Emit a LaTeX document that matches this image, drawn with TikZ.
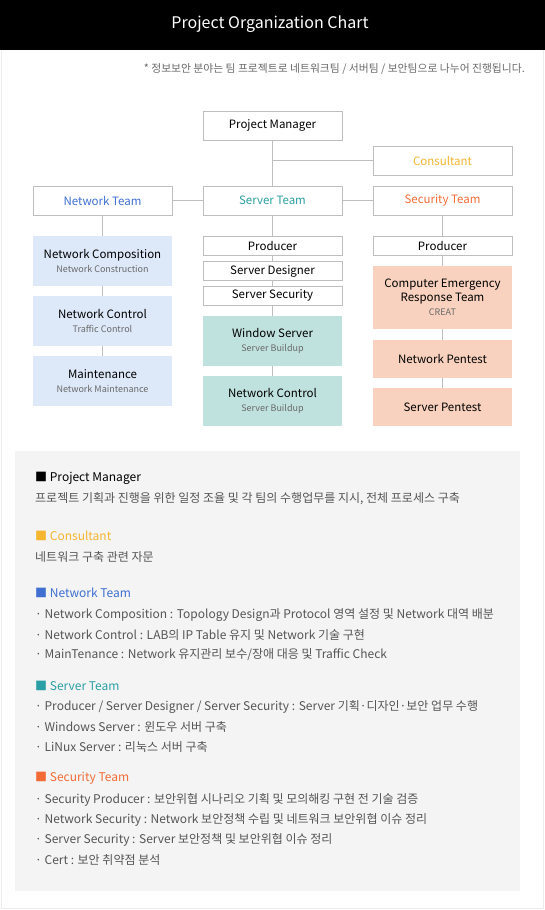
\documentclass[tikz,border=0pt]{standalone}
\usepackage{fontspec}
\setmainfont{Noto Sans CJK KR}
\usepackage{tikz}
\usetikzlibrary{positioning, calc}
\definecolor{blueNet}{RGB}{63, 111, 209}
\definecolor{blueNetLight}{RGB}{221, 232, 248}
\definecolor{tealServer}{RGB}{42, 160, 166}
\definecolor{tealServerLight}{RGB}{192, 226, 223}
\definecolor{orangeSec}{RGB}{243, 108, 54}
\definecolor{orangeSecLight}{RGB}{248, 210, 190}
\definecolor{yellowCons}{RGB}{245, 181, 46}
\definecolor{grayLine}{RGB}{190, 190, 190}
\definecolor{grayText}{RGB}{85, 85, 85}
\definecolor{graySub}{RGB}{105, 105, 105}
\definecolor{grayPanel}{RGB}{244, 244, 244}
\definecolor{grayFrame}{RGB}{236, 236, 236}
\newcommand{\subtext}[1]{{\fontsize{9}{11}\selectfont\color{graySub}#1}}

\begin{document}
\begin{tikzpicture}[x=1pt, y=-1pt,
  box/.style={rectangle, draw=grayLine, fill=white, line width=0.8pt,
    minimum width=139pt, minimum height=#1, inner sep=0pt,
    align=center, font=\fontsize{11.5}{13}\selectfont},
  box/.default=29pt,
  tile/.style={rectangle, fill=#1, minimum width=139pt, inner sep=0pt,
    align=center, font=\fontsize{11.5}{14}\selectfont},
  link/.style={draw=grayLine, line width=0.8pt},
  head/.style={anchor=west, inner sep=0pt, text=#1,
    font=\fontsize{12}{14}\selectfont},
  item/.style={anchor=west, inner sep=0pt, text=grayText,
    font=\fontsize{12}{14}\selectfont},
]
\useasboundingbox (0,0) rectangle (545,910);
\fill[black] (0,0) rectangle (545,50);
\draw[grayFrame, line width=1pt] (1,50) -- (1,908.5) -- (543.5,908.5) -- (543.5,50);
\node[text=white, font=\fontsize{16}{19}\selectfont] (title) at (270,24)
  {Project Organization Chart};
\node[anchor=east, inner sep=0pt, text=graySub, font=\fontsize{10.8}{13}\selectfont] (note) at (525,69)
  {* 정보보안 분야는 팀 프로젝트로 네트워크팀 / 서버팀 / 보안팀으로 나누어 진행됩니다.};

\node[box] (pm)   at (272.5,125.5) {Project Manager};
\node[box, text=yellowCons] (cons) at (442.5,160.5) {Consultant};
\node[box, text=blueNet]    (net)  at (102.5,200.5) {Network Team};
\node[box, text=tealServer] (srv)  at (272.5,200.5) {Server Team};
\node[box, text=orangeSec]  (sec)  at (442.5,200.5) {Security Team};

\node[tile=blueNetLight, minimum height=50pt] (netA) at (102.5,261)
  {Network Composition\\\subtext{Network Construction}};
\node[tile=blueNetLight, minimum height=50pt] (netB) at (102.5,321)
  {Network Control\\\subtext{Traffic Control}};
\node[tile=blueNetLight, minimum height=50pt] (netC) at (102.5,381)
  {Maintenance\\\subtext{Network Maintenance}};

\node[box=19pt] (srvA) at (272.5,245.5) {Producer};
\node[box=19pt] (srvB) at (272.5,271)   {Server Designer};
\node[box=19pt] (srvC) at (272.5,295.5) {Server Security};
\node[tile=tealServerLight, minimum height=50pt] (srvD) at (272.5,341)
  {Window Server\\\subtext{Server Buildup}};
\node[tile=tealServerLight, minimum height=50pt] (srvE) at (272.5,401)
  {Network Control\\\subtext{Server Buildup}};

\node[box=19pt] (secA) at (442.5,245.5) {Producer};
\node[tile=orangeSecLight, minimum height=63pt] (secB) at (442.5,297.5)
  {Computer Emergency\\Response Team\\\subtext{CREAT}};
\node[tile=orangeSecLight, minimum height=38pt] (secC) at (442.5,359) {Network Pentest};
\node[tile=orangeSecLight, minimum height=38pt] (secD) at (442.5,407) {Server Pentest};

\draw[link] (pm.south) -- (srv.north);
\draw[link] (pm.south |- cons.west) -- (cons.west);
\draw[link] (net.east) -- (srv.west);
\draw[link] (srv.east) -- (sec.west);
\draw[link] (net.south)  -- (netA.north);
\draw[link] (netA.south) -- (netB.north);
\draw[link] (netB.south) -- (netC.north);
\draw[link] (srv.south)  -- (srvA.north);
\draw[link] (srvA.south) -- (srvB.north);
\draw[link] (srvB.south) -- (srvC.north);
\draw[link] (srvC.south) -- (srvD.north);
\draw[link] (srvD.south) -- (srvE.north);
\draw[link] (sec.south)  -- (secA.north);
\draw[link] (secA.south) -- (secB.north);
\draw[link] (secB.south) -- (secC.north);
\draw[link] (secC.south) -- (secD.north);

\fill[grayPanel] (15,451) rectangle (520,891);
\node[head=black] (hPm) at (35,478) {■ Project Manager};
\node[item] (iPm) at (35,499) {프로젝트 기획과 진행을 위한 일정 조율 및 각 팀의 수행업무를 지시, 전체 프로세스 구축};
\node[head=yellowCons] (hCons) at (35,536) {■ Consultant};
\node[item] (iCons) at (35,557) {네트워크 구축 관련 자문};
\node[head=blueNet] (hNet) at (35,593) {■ Network Team};
\node[item] (iNetA) at (35,615) {· Network Composition : Topology Design과 Protocol 영역 설정 및 Network 대역 배분};
\node[item] (iNetB) at (35,635) {· Network Control : LAB의 IP Table 유지 및 Network 기술 구현};
\node[item] (iNetC) at (35,655) {· MainTenance : Network 유지관리 보수/장애 대응 및 Traffic Check};
\node[head=tealServer] (hSrv) at (35,686) {■ Server Team};
\node[item] (iSrvA) at (35,707) {· Producer / Server Designer / Server Security : Server 기획·디자인·보안 업무 수행};
\node[item] (iSrvB) at (35,727) {· Windows Server : 윈도우 서버 구축};
\node[item] (iSrvC) at (35,747) {· LiNux Server : 리눅스 서버 구축};
\node[head=orangeSec] (hSec) at (35,778) {■ Security Team};
\node[item] (iSecA) at (35,800) {· Security Producer : 보안위협 시나리오 기획 및 모의해킹 구현 전 기술 검증};
\node[item] (iSecB) at (35,820) {· Network Security : Network 보안정책 수립 및 네트워크 보안위협 이슈 정리};
\node[item] (iSecC) at (35,840) {· Server Security : Server 보안정책 및 보안위협 이슈 정리};
\node[item] (iSecD) at (35,860) {· Cert : 보안 취약점 분석};
\end{tikzpicture}
\end{document}
